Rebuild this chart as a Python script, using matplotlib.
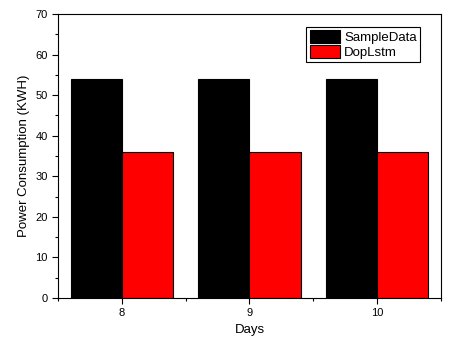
import matplotlib
matplotlib.use('Agg')
import matplotlib.pyplot as plt
from matplotlib.ticker import MultipleLocator

plt.rcParams['font.family'] = ['Liberation Sans', 'DejaVu Sans']

dias = [8, 9, 10]
sample_data = [54, 54, 54]
dop_lstm = [36, 36, 36]

fig = plt.figure(figsize=(4.6, 3.48), dpi=100)
ax = fig.add_axes([58/460, 1 - 298/348, (441 - 58)/460, (298 - 14)/348])

ax.bar([d - 0.4 for d in dias], sample_data, width=0.4, align='edge',
       color='black', edgecolor='black', linewidth=0.8, label='SampleData')
ax.bar(dias, dop_lstm, width=0.4, align='edge',
       color='#ff0000', edgecolor='black', linewidth=0.8, label='DopLstm')

ax.set_xlim(7.5, 10.5)
ax.set_ylim(0, 70)
ax.set_xticks(dias)
ax.xaxis.set_minor_locator(MultipleLocator(0.5))
ax.yaxis.set_major_locator(MultipleLocator(10))
ax.yaxis.set_minor_locator(MultipleLocator(5))
ax.tick_params(which='both', direction='out', top=False, right=False, labelsize=8)
ax.tick_params(which='major', length=4, width=0.8)
ax.tick_params(which='minor', length=2.5, width=0.8)
for s in ax.spines.values():
    s.set_linewidth(0.8)

ax.set_xlabel('Days', fontsize=9.5)
ax.set_ylabel('Power Consumption (KWH)', fontsize=9.5)

leg = ax.legend(loc='upper right', bbox_to_anchor=(0.945, 0.955), fontsize=9.5,
                frameon=True, fancybox=False, edgecolor='black', framealpha=1,
                handlelength=2.3, handleheight=1.1, handletextpad=0.3,
                borderpad=0.25, labelspacing=0.1, borderaxespad=0)
leg.get_frame().set_linewidth(0.8)

fig.savefig('out.png', dpi=100)
